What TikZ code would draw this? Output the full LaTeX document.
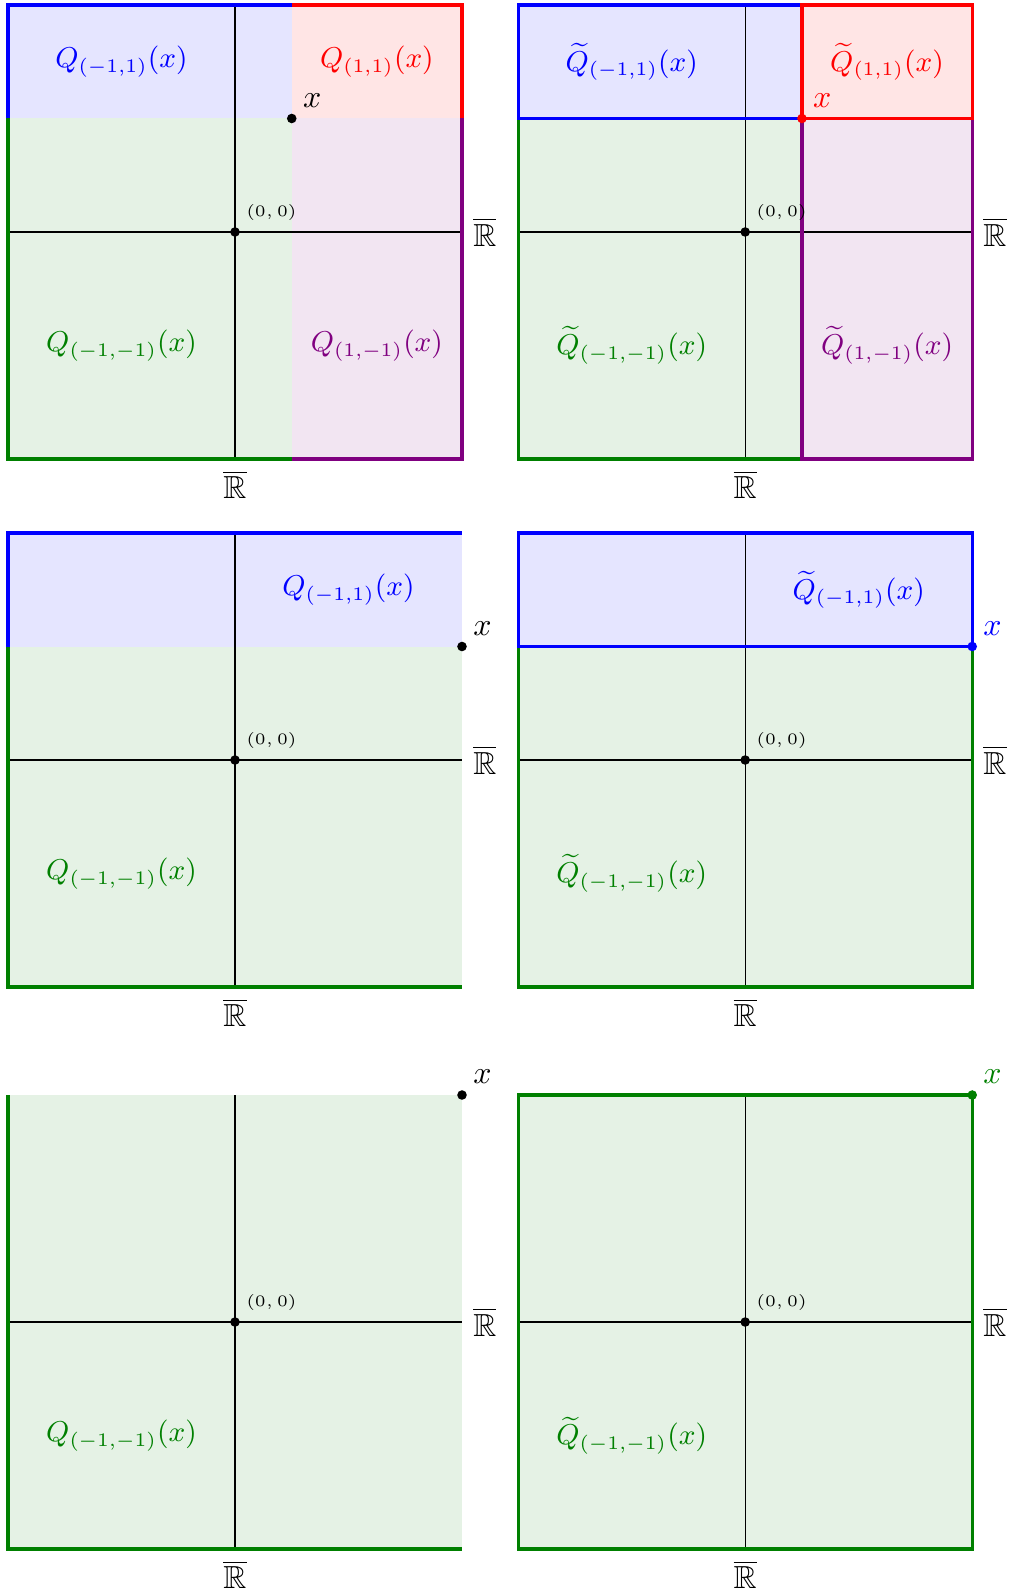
\documentclass[tikz,border=0pt]{standalone}
\usepackage{amsmath}
\usepackage{amssymb}
\usetikzlibrary{positioning}
\definecolor{qgreen}{rgb}{0,0.5,0}
\definecolor{qviolet}{rgb}{0.5,0,0.5}
\tikzset{
  ejes/.style={black, line width=0.4pt},
  borde/.style={line width=1pt},
  punto/.style={circle, fill, inner sep=0pt, minimum size=3pt},
  origen/.style={font=\tiny, above right},
  marca/.style={above right},
  conj/.style={font=\fontsize{9.2}{11}\selectfont}
}

\begin{document}
\begin{tikzpicture}[x=0.625cm, y=0.625cm]
\useasboundingbox (-4.141,-23.982) rectangle (13.639,4.088);

% arriba, Q
\begin{scope}
\fill[blue!10] (-4,2) rectangle (1,4);
\fill[red!10] (1,2) rectangle (4,4);
\fill[qgreen!10] (-4,-4) rectangle (1,2);
\fill[qviolet!10] (1,-4) rectangle (4,2);
\draw[ejes] (-4,0) -- (4,0);
\draw[ejes] (0,-4) -- (0,4);
\draw[borde, qgreen] (-4,2) -- (-4,-4) -- (1,-4);
\draw[borde, qviolet] (4,2) -- (4,-4) -- (1,-4);
\draw[borde, blue] (-4,2) -- (-4,4) -- (1,4);
\draw[borde, red] (1,4) -- (4,4) -- (4,2);
\node[punto] (o1) at (0,0) {};
\node[origen] (lo1) at (o1) {$(0,0)$};
\node[punto] (x1) at (1,2) {};
\node[marca] (lx1) at (x1) {$x$};
\node[right] (rh1) at (4,0) {$\overline{\mathbb{R}}$};
\node[below] (rv1) at (0,-4) {$\overline{\mathbb{R}}$};
\node[conj, text=blue] (q1a) at (-2,3) {$Q_{(-1,1)}(x)$};
\node[conj, text=red] (q1b) at (2.5,3) {$Q_{(1,1)}(x)$};
\node[conj, text=qgreen] (q1c) at (-2,-2) {$Q_{(-1,-1)}(x)$};
\node[conj, text=qviolet] (q1d) at (2.5,-2) {$Q_{(1,-1)}(x)$};
\end{scope}

% arriba, Q tilde
\begin{scope}[shift={(8.99,0)}]
\fill[qgreen!10] (-4,-4) rectangle (1,2);
\fill[qviolet!10] (1,-4) rectangle (4,2);
\fill[blue!10] (-4,2) rectangle (1,4);
\fill[red!10] (1,2) rectangle (4,4);
\draw[ejes] (-4,0) -- (4,0);
\draw[ejes] (0,-4) -- (0,4);
\draw[borde, qgreen] (-4,-4) rectangle (1,2);
\draw[borde, qviolet] (1,-4) rectangle (4,2);
\draw[borde, blue] (-4,2) rectangle (1,4);
\draw[borde, red] (1,2) rectangle (4,4);
\node[punto] (o2) at (0,0) {};
\node[origen] (lo2) at (o2) {$(0,0)$};
\node[punto, red] (x2) at (1,2) {};
\node[marca, text=red] (lx2) at (x2) {$x$};
\node[right] (rh2) at (4,0) {$\overline{\mathbb{R}}$};
\node[below] (rv2) at (0,-4) {$\overline{\mathbb{R}}$};
\node[conj, text=blue] (q2a) at (-2,3) {$\widetilde{Q}_{(-1,1)}(x)$};
\node[conj, text=red] (q2b) at (2.5,3) {$\widetilde{Q}_{(1,1)}(x)$};
\node[conj, text=qgreen] (q2c) at (-2,-2) {$\widetilde{Q}_{(-1,-1)}(x)$};
\node[conj, text=qviolet] (q2d) at (2.5,-2) {$\widetilde{Q}_{(1,-1)}(x)$};
\end{scope}

% centro, Q
\begin{scope}[shift={(0,-9.304)}]
\fill[blue!10] (-4,2) rectangle (4,4);
\fill[qgreen!10] (-4,-4) rectangle (4,2);
\draw[ejes] (-4,0) -- (4,0);
\draw[ejes] (0,-4) -- (0,4);
\draw[borde, qgreen] (-4,2) -- (-4,-4) -- (4,-4);
\draw[borde, blue] (-4,2) -- (-4,4) -- (4,4);
\node[punto] (o3) at (0,0) {};
\node[origen] (lo3) at (o3) {$(0,0)$};
\node[punto] (x3) at (4,2) {};
\node[marca] (lx3) at (x3) {$x$};
\node[right] (rh3) at (4,0) {$\overline{\mathbb{R}}$};
\node[below] (rv3) at (0,-4) {$\overline{\mathbb{R}}$};
\node[conj, text=blue] (q3a) at (2,3) {$Q_{(-1,1)}(x)$};
\node[conj, text=qgreen] (q3c) at (-2,-2) {$Q_{(-1,-1)}(x)$};
\end{scope}

% centro, Q tilde
\begin{scope}[shift={(8.99,-9.304)}]
\fill[blue!10] (-4,2) rectangle (4,4);
\fill[qgreen!10] (-4,-4) rectangle (4,2);
\draw[ejes] (-4,0) -- (4,0);
\draw[ejes] (0,-4) -- (0,4);
\draw[borde, qgreen] (-4,-4) rectangle (4,2);
\draw[borde, blue] (-4,2) rectangle (4,4);
\node[punto] (o4) at (0,0) {};
\node[origen] (lo4) at (o4) {$(0,0)$};
\node[punto, blue] (x4) at (4,2) {};
\node[marca, text=blue] (lx4) at (x4) {$x$};
\node[right] (rh4) at (4,0) {$\overline{\mathbb{R}}$};
\node[below] (rv4) at (0,-4) {$\overline{\mathbb{R}}$};
\node[conj, text=blue] (q4a) at (2,3) {$\widetilde{Q}_{(-1,1)}(x)$};
\node[conj, text=qgreen] (q4c) at (-2,-2) {$\widetilde{Q}_{(-1,-1)}(x)$};
\end{scope}

% abajo, Q
\begin{scope}[shift={(0,-19.207)}]
\fill[qgreen!10] (-4,-4) rectangle (4,4);
\draw[ejes] (-4,0) -- (4,0);
\draw[ejes] (0,-4) -- (0,4);
\draw[borde, qgreen] (-4,4) -- (-4,-4) -- (4,-4);
\node[punto] (o5) at (0,0) {};
\node[origen] (lo5) at (o5) {$(0,0)$};
\node[punto] (x5) at (4,4) {};
\node[marca] (lx5) at (x5) {$x$};
\node[right] (rh5) at (4,0) {$\overline{\mathbb{R}}$};
\node[below] (rv5) at (0,-4) {$\overline{\mathbb{R}}$};
\node[conj, text=qgreen] (q5c) at (-2,-2) {$Q_{(-1,-1)}(x)$};
\end{scope}

% abajo, Q tilde
\begin{scope}[shift={(8.99,-19.207)}]
\fill[qgreen!10] (-4,-4) rectangle (4,4);
\draw[ejes] (-4,0) -- (4,0);
\draw[ejes] (0,-4) -- (0,4);
\draw[borde, qgreen] (-4,-4) rectangle (4,4);
\node[punto] (o6) at (0,0) {};
\node[origen] (lo6) at (o6) {$(0,0)$};
\node[punto, qgreen] (x6) at (4,4) {};
\node[marca, text=qgreen] (lx6) at (x6) {$x$};
\node[right] (rh6) at (4,0) {$\overline{\mathbb{R}}$};
\node[below] (rv6) at (0,-4) {$\overline{\mathbb{R}}$};
\node[conj, text=qgreen] (q6c) at (-2,-2) {$\widetilde{Q}_{(-1,-1)}(x)$};
\end{scope}
\end{tikzpicture}
\end{document}
